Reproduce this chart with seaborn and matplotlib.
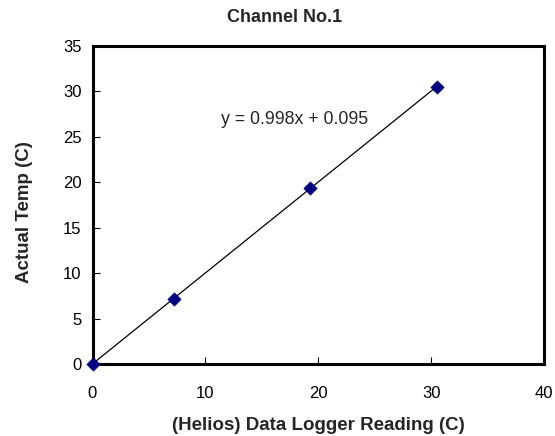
import numpy as np
import pandas as pd
import matplotlib
matplotlib.use("Agg")
import matplotlib.pyplot as plt
import seaborn as sns

# readings taken off the chart
logger_reading = [0.0, 7.2, 19.3, 30.5]
actual_temp = [0.0, 7.2, 19.4, 30.5]
slope = 0.998
intercept = 0.095

x_ticks = [0, 10, 20, 30, 40]
y_ticks = [0, 5, 10, 15, 20, 25, 30, 35]

df = pd.DataFrame({"reading": logger_reading, "actual": actual_temp})

sns.set_style("ticks")
plt.rcParams["font.family"] = ["Liberation Sans", "DejaVu Sans"]

fig = plt.figure(figsize=(5.55, 4.36), dpi=100)
ax = fig.add_axes([92.5 / 555, 1 - 364 / 436, (544 - 92.5) / 555, (364 - 46) / 436])

# trendline over the data range
sns.regplot(data=df, x="reading", y="actual", scatter=False, ci=None,
            truncate=True, color="black", line_kws={"linewidth": 0.9}, ax=ax)
sns.scatterplot(data=df, x="reading", y="actual", marker="D", s=45,
                color="#000080", edgecolor="#000080", zorder=5,
                clip_on=False, ax=ax)

ax.set_xlim(0, 40)
ax.set_ylim(0, 35)
ax.set_xticks(x_ticks)
ax.set_yticks(y_ticks)
ax.tick_params(axis="both", direction="in", length=5, width=0.8,
               labelsize=12, colors="black")
ax.tick_params(axis="x", pad=16)
ax.tick_params(axis="y", pad=8)
for sp in ax.spines.values():
    sp.set_visible(True)
    sp.set_linewidth(2.2)
    sp.set_color("black")

ax.set_xlabel("(Helios) Data Logger Reading (C)", fontsize=13.5, fontweight="bold")
ax.set_ylabel("Actual Temp (C)", fontsize=13.5, fontweight="bold")
ax.xaxis.set_label_coords((318 - 92.5) / 451.5, -(417 - 364) / 318)
ax.yaxis.set_label_coords(-(92.5 - 33) / 451.5, (364 - 212) / 318)

fig.text(285 / 555, 1 - 18 / 436, "Channel No.1", ha="center", va="center",
         fontsize=13, fontweight="bold")

ax.text(24.4, 26.9, f"y = {slope}x + {intercept}", ha="right", va="center",
        fontsize=12.8)

fig.savefig("out.png", dpi=100)
